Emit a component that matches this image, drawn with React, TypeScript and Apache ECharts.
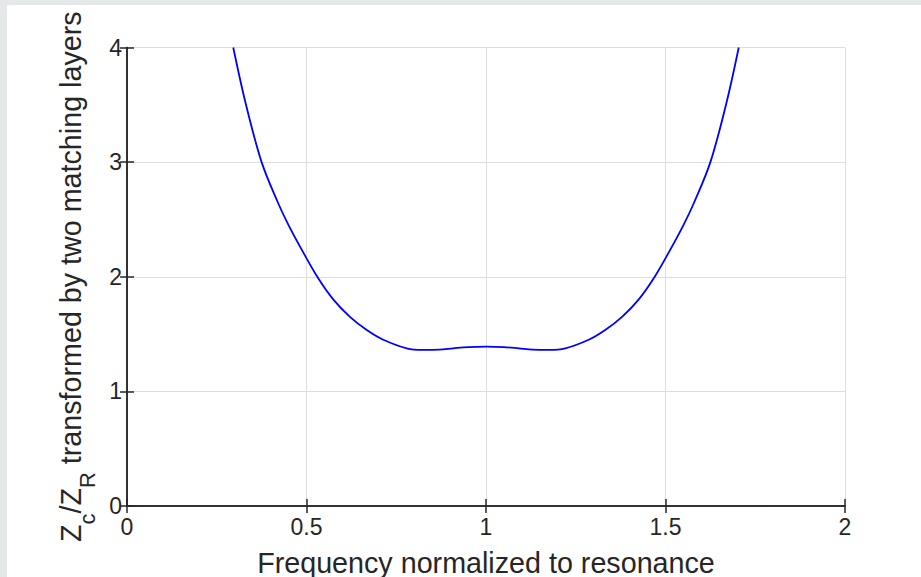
import React, { useEffect, useRef } from "react";
import * as echarts from "echarts";

// Values
const freq = [
  0.296, 0.33, 0.375, 0.42, 0.45, 0.487, 0.53, 0.575, 0.621, 0.668, 0.714, 0.779,
  0.825, 0.87, 0.909, 0.95, 1.0, 1.05, 1.091, 1.13, 1.175, 1.221, 1.286, 1.332,
  1.379, 1.425, 1.47, 1.513, 1.55, 1.58, 1.625, 1.67, 1.704,
];
const ratio = [
  4.0, 3.52, 3.0, 2.65, 2.45, 2.234, 2.0, 1.8, 1.65, 1.535, 1.45, 1.376,
  1.362, 1.365, 1.376, 1.386, 1.39, 1.386, 1.376, 1.365, 1.362, 1.376, 1.45, 1.535,
  1.65, 1.8, 2.0, 2.234, 2.45, 2.65, 3.0, 3.52, 4.0,
];
const xTicks = [0, 0.5, 1, 1.5, 2];
const yTicks = [0, 1, 2, 3, 4];
const xTitle = "Frequency normalized to resonance";
const yTitleParts = ["Z", "c", "/Z", "R", " transformed by two matching layers"];

const FONT = "'Liberation Sans', Arial, Helvetica, sans-serif";
const INK = "#262626";

export default function App() {
  const ref = useRef<HTMLDivElement>(null);
  useEffect(() => {
    if (!ref.current) return;
    const chart = echarts.init(ref.current, undefined, { renderer: "svg" });
    const data = freq.map((f, i) => [f, ratio[i]]);
    const tickLabel = { fontSize: 23, color: INK, fontFamily: FONT, inside: false };
    const line = { show: true, lineStyle: { color: INK, width: 1.5 } };
    // negative length points the ticks into the plot box
    const tick = { show: true, inside: false, length: -7, lineStyle: { color: INK, width: 1.5 } };
    chart.setOption({
      animation: false,
      backgroundColor: "#ffffff",
      grid: {
        left: 127,
        right: 76,
        top: 47.5,
        bottom: 71,
        containLabel: false,
        outerBoundsMode: "none",
      },
      graphic: [
        { type: "rect", left: 0, top: 0, shape: { width: 921, height: 5 }, style: { fill: "#e4e8e9" }, silent: true },
        { type: "rect", left: 0, top: 0, shape: { width: 7, height: 577 }, style: { fill: "#e4e8e9" }, silent: true },
      ],
      xAxis: [
        {
          type: "value",
          min: xTicks[0],
          max: xTicks[xTicks.length - 1],
          interval: 0.5,
          position: "bottom",
          name: xTitle,
          nameLocation: "middle",
          nameGap: 42,
          nameTextStyle: { fontSize: 28.7, color: INK, fontFamily: FONT },
          axisLine: line,
          axisTick: tick,
          axisLabel: { ...tickLabel, margin: 9 },
          splitLine: { show: true, lineStyle: { color: "#dedede", width: 1 } },
        },
        {
          type: "value",
          min: xTicks[0],
          max: xTicks[xTicks.length - 1],
          interval: 0.5,
          position: "top",
          axisLine: line,
          axisTick: tick,
          axisLabel: { show: false },
          splitLine: { show: false },
        },
      ],
      yAxis: [
        {
          type: "value",
          min: yTicks[0],
          max: yTicks[yTicks.length - 1],
          interval: 1,
          position: "left",
          name:
            `{m|${yTitleParts[0]}}{s|${yTitleParts[1]}}{m|${yTitleParts[2]}}{s|${yTitleParts[3]}}{m|${yTitleParts[4]}}`,
          nameLocation: "middle",
          nameRotate: 90,
          nameGap: 28,
          nameTextStyle: {
            color: INK,
            fontFamily: FONT,
            rich: {
              m: { fontSize: 28.7, color: INK, fontFamily: FONT, lineHeight: 30 },
              s: { fontSize: 22, color: INK, fontFamily: FONT, lineHeight: 22, padding: [32, 0, 0, 0] },
            },
          },
          axisLine: line,
          axisTick: tick,
          axisLabel: { ...tickLabel, margin: 5 },
          splitLine: { show: true, lineStyle: { color: "#dedede", width: 1 } },
        },
        {
          type: "value",
          min: yTicks[0],
          max: yTicks[yTicks.length - 1],
          interval: 1,
          position: "right",
          axisLine: line,
          axisTick: tick,
          axisLabel: { show: false },
          splitLine: { show: false },
        },
      ],
      series: [
        {
          type: "line",
          data,
          xAxisIndex: 0,
          yAxisIndex: 0,
          smooth: 0.35,
          showSymbol: false,
          clip: true,
          lineStyle: { color: "#0000ff", width: 1.8 },
          z: 5,
        },
      ],
    });
    return () => chart.dispose();
  }, []);
  return (
    <div
      ref={ref}
      style={{ position: "fixed", left: 0, top: 0, width: 921, height: 577, background: "#fff" }}
    />
  );
}
